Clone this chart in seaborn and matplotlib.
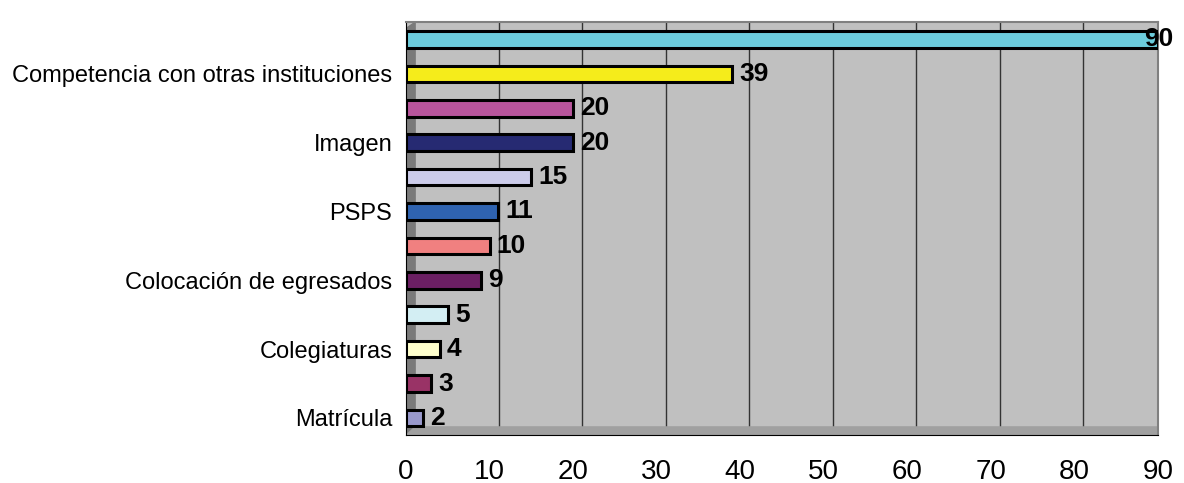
import pandas as pd
import seaborn as sns
import matplotlib.pyplot as plt
import matplotlib.transforms as mtransforms
from matplotlib.patches import Polygon

# Data (top to bottom); unlabeled categories are blank in the original
labels = ['', 'Competencia con otras instituciones', '', 'Imagen', '', 'PSPS',
          '', 'Colocación de egresados', '', 'Colegiaturas', '', 'Matrícula']
values = [90, 39, 20, 20, 15, 11, 10, 9, 5, 4, 3, 2]
colors = ['#6CCCDC', '#F5EC1B', '#B8559C', '#262A72', '#CCCCEA', '#2F63B0',
          '#F08080', '#6B1F63', '#D3EEF3', '#FFFFCC', '#993366', '#9999CC']
xticks = [0, 10, 20, 30, 40, 50, 60, 70, 80, 90]

keys = ['c%d' % i for i in range(len(values))]
df = pd.DataFrame({'key': keys, 'value': values})

sns.set_style('white')
plt.rcParams['font.family'] = ['Liberation Sans', 'DejaVu Sans']
plt.rcParams['text.color'] = 'black'
plt.rcParams['xtick.color'] = 'black'
plt.rcParams['ytick.color'] = 'black'

fig = plt.figure(figsize=(11.84, 4.83), dpi=100)
ax = fig.add_axes([0.343, 0.099, 0.635, 0.855])
ax.set_facecolor('#C0C0C0')

sns.barplot(data=df, x='value', y='key', hue='key', palette=colors, legend=False,
            width=0.48, edgecolor='black', linewidth=2.2, saturation=1, ax=ax, zorder=3)

# back-wall gridlines, shifted a little to the right for the 3D look
shift = mtransforms.ScaledTranslation(9 / 100, 0, fig.dpi_scale_trans)
grid_tr = mtransforms.blended_transform_factory(ax.transData, ax.transAxes) + shift
for x in xticks[1:]:
    ax.plot([x, x], [0.02, 1], color='#333333', lw=1, transform=grid_tr, zorder=1)

# left wall and floor
ax.add_patch(Polygon([[0, 0], [0.012, 0.02], [0.012, 1], [0, 0.985]],
                     closed=True, transform=ax.transAxes, color='#7A7A7A', zorder=2))
ax.add_patch(Polygon([[0, 0], [0.012, 0.02], [1, 0.02], [1, 0]],
                     closed=True, transform=ax.transAxes, color='#A0A0A0', zorder=2))

for c in ax.containers:
    texts = ax.bar_label(c, padding=5, fontsize=19, fontweight='bold', zorder=5)
    for t, v in zip(texts, c.datavalues):
        if v >= 85:
            t.set_position((-10, 0))

ax.set_xlim(0, 90)
ax.set_xticks(xticks)
ax.set_xticklabels([str(x) for x in xticks], fontsize=20)
ax.set_yticks(range(len(labels)))
ax.set_yticklabels(labels, fontsize=17)
ax.set_yticks([i - 0.5 for i in range(len(labels) + 1)], minor=True)
ax.set_ylim(len(labels) - 0.5, -0.5)
ax.tick_params(axis='y', which='major', length=0, pad=10)
ax.tick_params(axis='y', which='minor', length=6, width=1, direction='out')
ax.tick_params(axis='x', length=7, width=1, direction='out', pad=10)
ax.set_xlabel('')
ax.set_ylabel('')

for side in ['top', 'right']:
    ax.spines[side].set_color('#808080')
    ax.spines[side].set_linewidth(1.5)
ax.spines['left'].set_color('black')
ax.spines['bottom'].set_color('black')

fig.savefig('out.png', dpi=100)
